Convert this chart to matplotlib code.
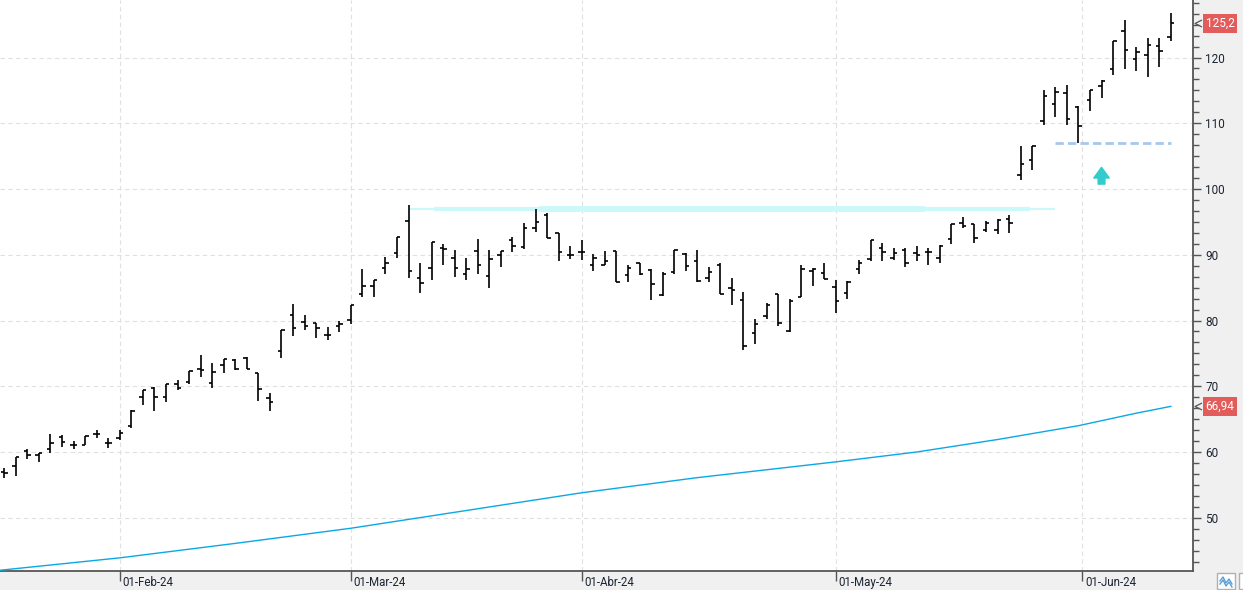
import numpy as np
import pandas as pd
import matplotlib
matplotlib.use("Agg")
import matplotlib.pyplot as plt
from matplotlib.path import Path
from matplotlib.patches import Rectangle
from matplotlib.lines import Line2D
from matplotlib.ticker import MultipleLocator
import matplotlib.transforms as mtransforms

plt.rcParams['font.family'] = ['Roboto', 'DejaVu Sans']

# ---------------- data ----------------
start_date = '2024-01-18'
end_date = '2024-06-12'
market_holidays = ['2024-02-19', '2024-03-29', '2024-05-27']

opens = [56.9, 57.9, 60.1, 59.6, 60.4, 62.3, 61.0, 61.1, 62.8, 61.4,
         62.1, 64.0, 68.3, 69.7, 68.3, 70.3, 70.6, 72.6, 70.5, 73.3,
         74.0, 74.3, 72.0, 68.2, 75.3, 80.9, 79.8, 79.6, 77.8, 79.2,
         80.1, 84.0, 85.3, 88.0, 90.2, 95.2, 86.5, 88.0, 91.1, 89.5,
         87.0, 90.5, 86.7, 89.9, 92.2, 91.2, 94.0, 96.1, 93.3, 90.0,
         90.4, 88.5, 88.5, 90.6, 86.9, 88.8, 87.7, 83.9, 87.4, 90.1,
         89.1, 86.5, 88.4, 85.0, 83.1, 78.1, 80.7, 84.1, 78.4, 83.6,
         87.6, 87.3, 85.1, 84.2, 87.9, 89.3, 91.0, 89.5, 90.8, 90.3,
         90.4, 89.5, 92.4, 94.9, 94.7, 93.8, 93.7, 95.5, 102.2, 104.4,
         110.3, 113.0, 114.6, 112.4, 113.6, 115.6, 118.3, 124.0, 119.7, 120.4,
         121.7, 123.1]
highs = [57.6, 59.3, 60.4, 59.9, 62.8, 62.6, 61.6, 62.4, 63.4, 62.2,
         63.3, 66.4, 69.5, 69.9, 70.3, 70.9, 72.3, 74.8, 73.6, 74.2,
         74.1, 74.4, 72.0, 68.9, 78.6, 82.5, 80.9, 79.6, 79.0, 80.0,
         82.4, 87.8, 86.1, 89.7, 92.7, 97.5, 88.8, 92.0, 91.6, 90.7,
         89.5, 92.4, 90.7, 90.5, 92.7, 94.9, 96.9, 96.3, 93.3, 91.3,
         92.3, 90.1, 90.5, 90.6, 88.5, 88.8, 87.8, 87.4, 90.7, 90.2,
         90.7, 88.2, 88.8, 86.4, 84.4, 80.2, 82.7, 84.1, 83.3, 88.4,
         88.0, 88.8, 86.1, 86.0, 89.2, 92.2, 91.8, 91.0, 91.0, 91.4,
         91.0, 91.5, 94.7, 95.8, 94.7, 95.1, 95.4, 96.1, 106.5, 106.6,
         115.0, 115.5, 115.8, 112.7, 115.1, 116.6, 122.5, 125.7, 121.6, 123.0,
         122.9, 126.8]
lows = [56.0, 56.3, 58.9, 58.5, 59.9, 60.8, 60.4, 61.0, 62.1, 60.6,
        61.9, 63.7, 67.2, 66.3, 67.6, 69.5, 70.4, 71.4, 69.7, 72.0,
        72.4, 72.6, 67.7, 66.3, 74.3, 77.6, 78.5, 77.3, 77.1, 78.3,
        79.5, 83.5, 83.5, 87.1, 89.5, 86.5, 84.2, 86.1, 88.5, 86.6,
        86.1, 87.0, 84.9, 88.1, 90.4, 90.9, 93.5, 92.6, 89.0, 89.3,
        89.2, 87.5, 88.5, 85.9, 85.8, 86.9, 83.1, 83.8, 87.0, 87.5,
        85.8, 85.8, 84.0, 82.3, 75.5, 76.4, 80.2, 79.1, 78.2, 83.5,
        85.2, 86.3, 81.1, 83.2, 87.1, 89.1, 89.0, 89.2, 88.1, 89.1,
        88.4, 88.8, 91.7, 94.1, 91.8, 93.4, 93.2, 93.3, 101.4, 102.9,
        109.8, 110.9, 109.7, 107.0, 111.9, 113.9, 117.4, 118.2, 118.0, 117.0,
        118.6, 122.5]
closes = [56.8, 59.3, 59.6, 59.9, 61.4, 61.5, 61.0, 62.4, 62.8, 61.4,
          62.9, 66.3, 69.5, 68.3, 70.3, 69.7, 72.3, 72.4, 72.1, 74.1,
          72.6, 72.7, 69.6, 67.6, 78.6, 78.8, 79.1, 78.8, 77.8, 79.5,
          82.4, 85.3, 86.1, 88.8, 92.7, 87.6, 85.7, 92.0, 90.9, 88.0,
          87.9, 88.5, 89.4, 90.5, 91.3, 94.1, 95.0, 92.6, 90.4, 90.0,
          90.4, 89.5, 89.0, 85.9, 88.0, 87.0, 85.5, 87.0, 90.7, 88.3,
          86.0, 87.4, 84.1, 84.7, 76.1, 79.5, 82.4, 79.6, 82.9, 87.8,
          87.9, 86.3, 83.0, 85.9, 88.8, 92.2, 90.4, 90.3, 88.8, 89.9,
          90.4, 91.4, 94.7, 94.4, 92.5, 94.9, 95.3, 94.8, 103.8, 106.5,
          114.1, 114.8, 110.7, 109.6, 115.1, 116.4, 122.5, 121.1, 120.9, 121.9,
          121.0, 125.2]

# moving average read at a few bar positions
ma_idx = [-1, 10, 20, 30, 40, 50, 60, 66, 72, 79, 86, 93, 98, 101]
ma_vals = [41.9, 43.9, 46.1, 48.4, 51.1, 53.8, 56.1, 57.3, 58.5, 60.0, 61.9, 64.0, 65.9, 66.94]

month_starts = ['2024-02-01', '2024-03-01', '2024-04-01', '2024-05-01', '2024-06-01']
month_labels = ['01-Feb-24', '01-Mar-24', '01-Abr-24', '01-May-24', '01-Jun-24']

resistance_level = 97.0
support_level = 106.95
last_price_label = '125,2'
ma_last_label = '66,94'

# ---------------- derived ----------------
dates = pd.bdate_range(start_date, end_date)
dates = dates[~dates.isin(pd.to_datetime(market_holidays))]
n = len(closes)
x = np.arange(n)
ords = np.array([d.toordinal() for d in dates[:n]], dtype=float)
tick_pos = [np.interp(pd.Timestamp(m).toordinal(), ords, x) for m in month_starts]

# ---------------- figure ----------------
W, H = 1243, 590
fig = plt.figure(figsize=(W / 100, H / 100), dpi=100, facecolor='#f0f0f0')
ax = fig.add_axes([0, 19 / H, 1193 / W, 571 / H])
ax.set_facecolor('white')
ax.set_xlim(-0.37, 102.92)
ax.set_ylim(41.9, 128.75)

# grid
ax.set_xticks(tick_pos)
ax.set_xticklabels(month_labels, ha='left')
ax.yaxis.set_major_locator(MultipleLocator(10))
ax.yaxis.set_minor_locator(MultipleLocator(10 / 6))
ax.grid(True, which='major', axis='both', color='#e0e0e0', lw=0.8, ls=(0, (4, 3)))
ax.set_axisbelow(True)

# resistance band (light cyan)
ax.hlines(resistance_level, 35.0, 91.0, color='#cbf8f9', lw=1.5, zorder=2)
ax.hlines(resistance_level, 37.2, 88.8, color='#cbf8f9', lw=3.0, zorder=2)
ax.hlines(resistance_level, 46.3, 79.7, color='#cbf8f9', lw=4.2, zorder=2)

# support dashed line
ax.hlines(support_level, 91.0, 101.0, color='#a6c8ee', lw=2.0, linestyles=[(0, (3.0, 1.5))], zorder=2)

# moving average
ax.plot(ma_idx, ma_vals, color='#0aa8e6', lw=1.0, zorder=3)

# OHLC bars
w = 0.3
ax.vlines(x, lows, highs, color='black', lw=1.2, zorder=4)
ax.hlines(opens, x - w, x, color='black', lw=1.2, zorder=4)
ax.hlines(closes, x, x + w, color='black', lw=1.2, zorder=4)

# teal arrow
ax.annotate('', xy=(95, 103.3), xytext=(95, 100.75),
            arrowprops=dict(arrowstyle='simple,head_length=0.55,head_width=0.8,tail_width=0.35',
                            color='#33cccc', shrinkA=0, shrinkB=0, mutation_scale=14), zorder=5)

# spines / ticks
for s in ['left', 'top']:
    ax.spines[s].set_visible(False)
for s in ['right', 'bottom']:
    ax.spines[s].set_color('#555555')
    ax.spines[s].set_linewidth(1.3)
ax.yaxis.tick_right()
ax.tick_params(axis='y', which='major', length=6, width=1, color='#555555', pad=3,
               labelsize=8.5, labelcolor='#1c2533')
ax.tick_params(axis='y', which='minor', length=4, width=1, color='#555555')
ax.tick_params(axis='x', which='major', length=7, width=1, color='#555555', pad=-3.2,
               labelsize=8.3, labelcolor='#1c2533')
offset = mtransforms.ScaledTranslation(2 / 72, 0, fig.dpi_scale_trans)
for lab in ax.get_xticklabels():
    lab.set_transform(lab.get_transform() + offset)

# price labels on the right axis
blend = mtransforms.blended_transform_factory(ax.transAxes, ax.transData)
chev = Path([(1, 1), (-1, 0), (1, -1)], [Path.MOVETO, Path.LINETO, Path.LINETO])
for val, txt in [(closes[-1], last_price_label), (ma_vals[-1], ma_last_label)]:
    ax.text(1.0105, val, txt, transform=blend, ha='left', va='center', color='white',
            fontsize=8.5, clip_on=False,
            bbox=dict(boxstyle='square,pad=0.25', fc='#e25c5c', ec='none'))
    ax.plot([1.0038], [val], transform=blend, marker=chev, ms=5, mfc='none',
            mec='#555555', mew=0.9, clip_on=False, ls='none')

# small icon bottom right
fig.add_artist(Rectangle((1217 / W, 1 / H), 18 / W, 16 / H, transform=fig.transFigure,
                         fc='white', ec='#b0b0b0', lw=1))
fig.add_artist(Rectangle((1239 / W, 1 / H), 10 / W, 16 / H, transform=fig.transFigure,
                         fc='white', ec='#b0b0b0', lw=1))
zx = np.array([1220, 1223, 1226, 1229, 1232]) / W
zy = np.array([9, 13, 7, 11, 6]) / H
fig.add_artist(Line2D(zx, zy, transform=fig.transFigure, color='#5a9fd4', lw=1))
fig.add_artist(Line2D(zx, zy - 3 / H, transform=fig.transFigure, color='#5a9fd4', lw=1))

fig.savefig('out.png', dpi=100, facecolor=fig.get_facecolor())
